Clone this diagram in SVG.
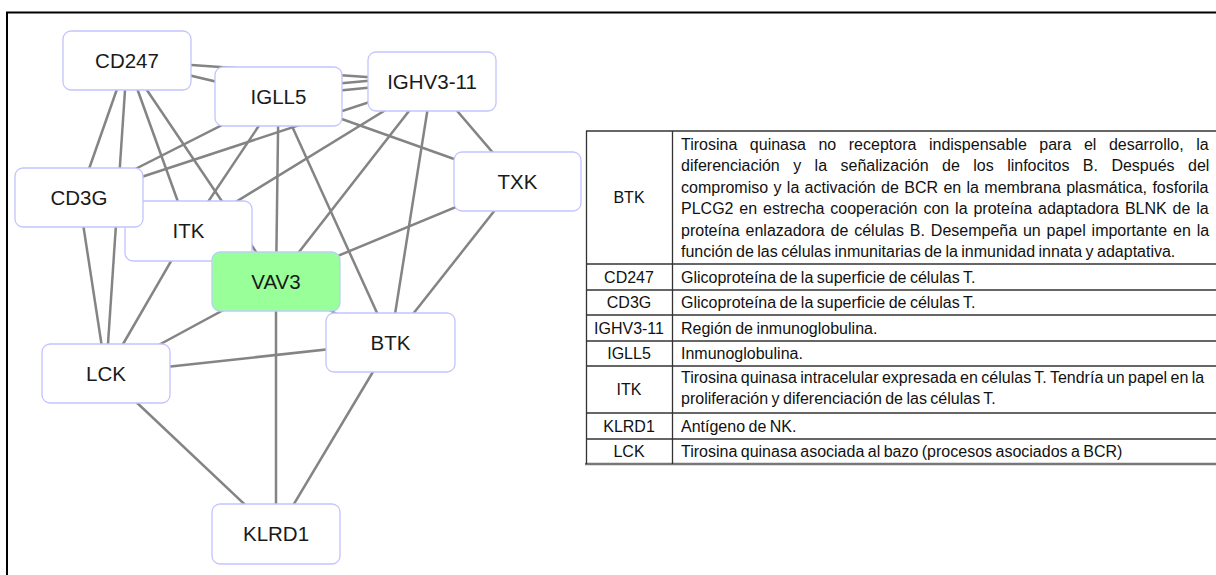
<svg xmlns="http://www.w3.org/2000/svg" width="1216" height="575" viewBox="0 0 1216 575">
<style>
.edge{stroke:#848484;stroke-width:2.5;fill:none}
.box{fill:#ffffff;stroke:#c4c4ff;stroke-width:1.3}
.lbl{font-family:"Liberation Sans",Arial,sans-serif;font-size:20.5px;fill:#1a1a1a;text-anchor:middle}
.tt{font-family:"Liberation Sans",Arial,sans-serif;font-size:16px;fill:#111;word-spacing:-1px}
.tc{font-family:"Liberation Sans",Arial,sans-serif;font-size:16px;fill:#111;text-anchor:middle}
.grid{stroke:#333;stroke-width:1.3}
</style>
<rect width="1216" height="575" fill="#ffffff"/>
<g id="frame">
<line x1="6" y1="12.5" x2="1216" y2="12.5" stroke="#000" stroke-width="2"/>
<line x1="7" y1="12" x2="7" y2="575" stroke="#000" stroke-width="2"/>
</g>
<g id="connectors">
<line class="edge" x1="127" y1="60.5" x2="278.5" y2="96.5"/>
<line class="edge" x1="127" y1="60.5" x2="432" y2="81.5"/>
<line class="edge" x1="278.5" y1="96.5" x2="432" y2="81.5"/>
<line class="edge" x1="278.5" y1="89" x2="432" y2="75"/>
<line class="edge" x1="127" y1="60.5" x2="79" y2="197.5"/>
<line class="edge" x1="127" y1="60.5" x2="106" y2="373.5"/>
<line class="edge" x1="127" y1="60.5" x2="188.5" y2="231"/>
<line class="edge" x1="127" y1="60.5" x2="276" y2="281.5"/>
<line class="edge" x1="278.5" y1="96.5" x2="79" y2="197.5"/>
<line class="edge" x1="278.5" y1="96.5" x2="188.5" y2="231"/>
<line class="edge" x1="278.5" y1="96.5" x2="276" y2="281.5"/>
<line class="edge" x1="278.5" y1="96.5" x2="390.5" y2="342.5"/>
<line class="edge" x1="278.5" y1="96.5" x2="517.5" y2="181.5"/>
<line class="edge" x1="79" y1="197.5" x2="432" y2="81.5"/>
<line class="edge" x1="188.5" y1="231" x2="432" y2="81.5"/>
<line class="edge" x1="432" y1="81.5" x2="276" y2="281.5"/>
<line class="edge" x1="432" y1="81.5" x2="390.5" y2="342.5"/>
<line class="edge" x1="432" y1="81.5" x2="517.5" y2="181.5"/>
<line class="edge" x1="517.5" y1="181.5" x2="276" y2="281.5"/>
<line class="edge" x1="517.5" y1="181.5" x2="390.5" y2="342.5"/>
<line class="edge" x1="79" y1="197.5" x2="106" y2="373.5"/>
<line class="edge" x1="188.5" y1="231" x2="106" y2="373.5"/>
<line class="edge" x1="276" y1="281.5" x2="106" y2="373.5"/>
<line class="edge" x1="276" y1="281.5" x2="276" y2="534"/>
<line class="edge" x1="276" y1="281.5" x2="390.5" y2="342.5"/>
<line class="edge" x1="106" y1="373.5" x2="390.5" y2="342.5"/>
<line class="edge" x1="106" y1="373.5" x2="276" y2="534"/>
<line class="edge" x1="390.5" y1="342.5" x2="276" y2="534"/>
</g>
<g id="node-ITK"><rect class="box" x="125" y="201" width="127" height="60" rx="8"/><text class="lbl" x="188.5" y="238">ITK</text></g>
<g id="node-CD3G"><rect class="box" x="15" y="168" width="128" height="59" rx="8"/><text class="lbl" x="79" y="204.5">CD3G</text></g>
<g id="node-CD247"><rect class="box" x="63" y="31" width="128" height="59" rx="8"/><text class="lbl" x="127" y="67.5">CD247</text></g>
<g id="node-IGLL5"><rect class="box" x="215" y="67" width="127" height="59" rx="8"/><text class="lbl" x="278.5" y="103.5">IGLL5</text></g>
<g id="node-IGHV3-11"><rect class="box" x="368" y="52" width="128" height="59" rx="8"/><text class="lbl" x="432" y="88.5">IGHV3-11</text></g>
<g id="node-TXK"><rect class="box" x="454" y="152" width="127" height="59" rx="8"/><text class="lbl" x="517.5" y="188.5">TXK</text></g>
<g id="node-VAV3"><rect x="212" y="252" width="128" height="59" rx="8" fill="#99ff99" stroke="#b4d4f0" stroke-width="1.3"/><text class="lbl" x="276" y="288.5">VAV3</text></g>
<g id="node-BTK"><rect class="box" x="326" y="313" width="129" height="59" rx="8"/><text class="lbl" x="390.5" y="349.5">BTK</text></g>
<g id="node-LCK"><rect class="box" x="42" y="344" width="128" height="59" rx="8"/><text class="lbl" x="106" y="380.5">LCK</text></g>
<g id="node-KLRD1"><rect class="box" x="212" y="504" width="128" height="60" rx="8"/><text class="lbl" x="276" y="541">KLRD1</text></g>
<g id="table">
<line class="grid" x1="586" y1="131" x2="1216" y2="131"/>
<line class="grid" x1="586" y1="264" x2="1216" y2="264"/>
<line class="grid" x1="586" y1="290" x2="1216" y2="290"/>
<line class="grid" x1="586" y1="315" x2="1216" y2="315"/>
<line class="grid" x1="586" y1="341" x2="1216" y2="341"/>
<line class="grid" x1="586" y1="366" x2="1216" y2="366"/>
<line class="grid" x1="586" y1="413" x2="1216" y2="413"/>
<line class="grid" x1="586" y1="439" x2="1216" y2="439"/>
<line x1="585" y1="464" x2="1216" y2="464" stroke="#777" stroke-width="2.5"/>
<line class="grid" x1="586.5" y1="131" x2="586.5" y2="464"/>
<line class="grid" x1="672.5" y1="131" x2="672.5" y2="464"/>
<text class="tc" x="629" y="203">BTK</text>
<text class="tt" x="681" y="149.5" style="word-spacing:8.1px">Tirosina quinasa no receptora indispensable para el desarrollo, la</text>
<text class="tt" x="681" y="171" style="word-spacing:9px">diferenciación y la señalización de los linfocitos B. Después del</text>
<text class="tt" x="681" y="192.5" style="word-spacing:0.9px">compromiso y la activación de BCR en la membrana plasmática, fosforila</text>
<text class="tt" x="681" y="214" style="word-spacing:1.45px">PLCG2 en estrecha cooperación con la proteína adaptadora BLNK de la</text>
<text class="tt" x="681" y="235.5" style="word-spacing:1.4px">proteína enlazadora de células B. Desempeña un papel importante en la</text>
<text class="tt" x="681" y="257">función de las células inmunitarias de la inmunidad innata y adaptativa.</text>
<text class="tc" x="629" y="282.5">CD247</text>
<text class="tt" x="681" y="282.5">Glicoproteína de la superficie de células T.</text>
<text class="tc" x="629" y="308">CD3G</text>
<text class="tt" x="681" y="308">Glicoproteína de la superficie de células T.</text>
<text class="tc" x="629" y="333.5">IGHV3-11</text>
<text class="tt" x="681" y="333.5">Región de inmunoglobulina.</text>
<text class="tc" x="629" y="359">IGLL5</text>
<text class="tt" x="681" y="359">Inmunoglobulina.</text>
<text class="tc" x="629" y="395">ITK</text>
<text class="tt" x="681" y="382.5" style="word-spacing:-1px">Tirosina quinasa intracelular expresada en células T. Tendría un papel en la</text>
<text class="tt" x="681" y="404">proliferación y diferenciación de las células T.</text>
<text class="tc" x="629" y="431.5">KLRD1</text>
<text class="tt" x="681" y="431.5">Antígeno de NK.</text>
<text class="tc" x="629" y="457">LCK</text>
<text class="tt" x="681" y="457">Tirosina quinasa asociada al bazo (procesos asociados a BCR)</text>
</g>
</svg>
